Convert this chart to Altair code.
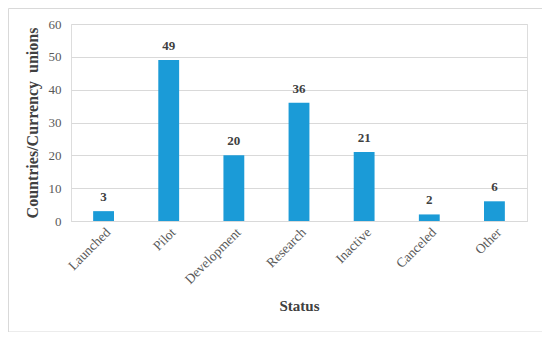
import altair as alt
import pandas as pd

statuses = ["Launched", "Pilot", "Development", "Research", "Inactive", "Canceled", "Other"]
counts = [3, 49, 20, 36, 21, 2, 6]

df = pd.DataFrame({"Status": statuses, "Count": counts})

FONT = "Liberation Serif"

x_enc = alt.X("Status:N", sort=statuses, title="Status",
              scale=alt.Scale(paddingInner=0.68, paddingOuter=0.34),
              axis=alt.Axis(labelAngle=-45, labelAlign="right", labelBaseline="top",
                            labelFont=FONT, labelFontSize=13.5, labelColor="#595959",
                            labelPadding=4, ticks=False, domainColor="#d9d9d9",
                            titleFont=FONT, titleFontSize=15, titleFontWeight="bold",
                            titleColor="#404040", titlePadding=13))
y_enc = alt.Y("Count:Q", title="Countries/Currency\u00a0 unions",
              scale=alt.Scale(domain=[0, 60]),
              axis=alt.Axis(values=[0, 10, 20, 30, 40, 50, 60], tickCount=7, domain=False,
                            ticks=False, labelOverlap=False,
                            gridColor="#d9d9d9", labelFont=FONT, labelFontSize=13,
                            labelColor="#595959", labelPadding=10,
                            titleFont=FONT, titleFontSize=16, titleFontWeight="bold",
                            titleColor="#404040", titlePadding=8))

base = alt.Chart(df)

bars = base.mark_bar(color="#1b9bd7").encode(x=x_enc, y=y_enc)

labels = base.mark_text(font=FONT, fontSize=13, fontWeight="bold", color="#404040",
                        dy=-14).encode(x=x_enc, y=y_enc, text="Count:Q")

border = alt.Chart(pd.DataFrame({"k": [0]})).mark_rect(
    fill=None, stroke="#d9d9d9", strokeWidth=1, clip=False
).encode(x=alt.value(-62.5), x2=alt.value(473), y=alt.value(-15.5), y2=alt.value(308))

chart = alt.layer(bars, labels, border).properties(
    width=456, height=197,
    autosize=alt.AutoSizeParams(type="none"),
    padding={"left": 63, "top": 16, "right": 15, "bottom": 111}
).configure_view(stroke=None).configure(background="white")

chart.save("out.html", embed_options={"renderer": "svg", "actions": False})
